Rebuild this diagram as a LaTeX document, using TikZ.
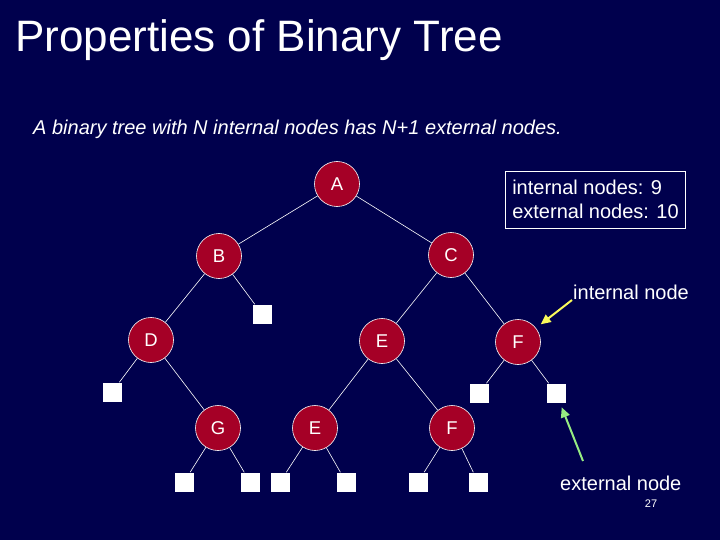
\documentclass[tikz,border=0pt]{standalone}
\usepackage{fontspec}
\setmainfont{Liberation Sans}
\usetikzlibrary{arrows.meta}
\definecolor{slidebg}{RGB}{0,0,77}
\definecolor{nodered}{RGB}{165,0,38}
\definecolor{ptryellow}{RGB}{250,250,90}
\definecolor{ptrgreen}{RGB}{150,235,130}

\begin{document}
\begin{tikzpicture}[x=1pt, y=-1pt,
    inode/.style={circle, fill=nodered, draw=white, line width=0.6pt, minimum size=45pt, inner sep=0pt, text=white, font=\fontsize{18.5}{18}\selectfont},
    enode/.style={rectangle, fill=white, minimum size=19pt, inner sep=0pt},
    edge/.style={white, line width=0.6pt},
    label/.style={text=white, inner sep=0pt, font=\fontsize{20}{24}\selectfont},
    pointer/.style={line width=2pt, -{Triangle[length=10pt, width=9pt]}}]
      \fill[slidebg] (0,0) rectangle (720,540);
      \useasboundingbox (0,0) rectangle (720,540);

      \node[label, anchor=base west, font=\fontsize{44}{44}\selectfont] (title) at (15,52) {Properties of Binary Tree};
      \node[label, anchor=base west, font=\itshape\fontsize{20}{22}\selectfont] (claim) at (33,135) {A binary tree with N internal nodes has N+1 external nodes.};

      % internal nodes
      \node[inode] (a) at (337,184) {A};
      \node[inode] (b) at (219,256) {B};
      \node[inode] (c) at (451,255) {C};
      \node[inode] (d) at (151,340) {D};
      \node[inode] (e) at (382,341) {E};
      \node[inode] (f) at (518,342) {F};
      \node[inode] (g) at (218,428) {G};
      \node[inode] (e2) at (315,428) {E};
      \node[inode] (f2) at (452,428) {F};

      % external nodes
      \node[enode] (x1) at (262,314) {};
      \node[enode] (x2) at (112,392) {};
      \node[enode] (x3) at (479,393) {};
      \node[enode] (x4) at (556,393) {};
      \node[enode] (x5) at (184,482) {};
      \node[enode] (x6) at (250,482) {};
      \node[enode] (x7) at (280,482) {};
      \node[enode] (x8) at (346,482) {};
      \node[enode] (x9) at (418,482) {};
      \node[enode] (x10) at (478,482) {};

      \draw[edge] (a) -- (b);
      \draw[edge] (a) -- (c);
      \draw[edge] (b) -- (d);
      \draw[edge] (b) -- (x1);
      \draw[edge] (c) -- (e);
      \draw[edge] (c) -- (f);
      \draw[edge] (d) -- (x2);
      \draw[edge] (d) -- (g);
      \draw[edge] (e) -- (e2);
      \draw[edge] (e) -- (f2);
      \draw[edge] (f) -- (x3);
      \draw[edge] (f) -- (x4);
      \draw[edge] (g) -- (x5);
      \draw[edge] (g) -- (x6);
      \draw[edge] (e2) -- (x7);
      \draw[edge] (e2) -- (x8);
      \draw[edge] (f2) -- (x9);
      \draw[edge] (f2) -- (x10);

      \node[label, draw=white, line width=0.6pt, align=left, anchor=north west, inner xsep=7pt, inner ysep=9pt] (count) at (505,171) {internal nodes: 9\\external nodes: 10};

      \node[label, anchor=base west] (intlabel) at (573,299) {internal node};
      \coordinate (intfrom) at (572,300);
      \draw[pointer, ptryellow, shorten >=6pt] (intfrom) -- (f);

      \node[label, anchor=base west] (extlabel) at (560,490) {external node};
      \coordinate (extfrom) at (583,461);
      \draw[pointer, ptrgreen, shorten >=5pt] (extfrom) -- (x4);

      \node[label, font=\fontsize{11}{11}\selectfont] (page) at (651,504) {27};
\end{tikzpicture}
\end{document}
